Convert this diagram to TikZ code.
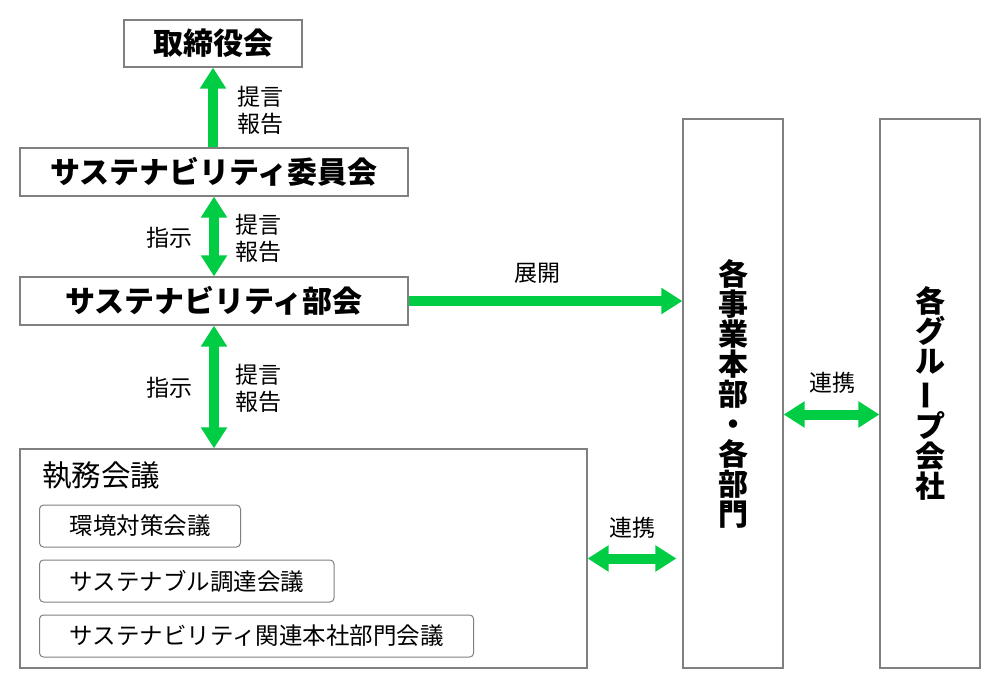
\documentclass[tikz,border=0pt]{standalone}
\usepackage{fontspec}
\usepackage{graphicx}
\setmainfont{Noto Sans CJK JP}
\usetikzlibrary{arrows.meta}
\definecolor{kgreen}{RGB}{0,204,68}
\definecolor{kgray}{RGB}{128,128,128}

\begin{document}
\begin{tikzpicture}[x=1pt,y=-1pt,
    box/.style={draw=kgray,line width=1.2pt,inner sep=0pt,font=\fontsize{30}{30}\selectfont\bfseries},
    subbox/.style={draw=kgray,line width=1pt,rounded corners=4pt,inner xsep=30pt,minimum height=42pt,anchor=west,font=\fontsize{23.5}{26}\selectfont},
    garrow/.style={kgreen,line width=10pt,-{Triangle[width=25pt,length=21pt]}},
    gboth/.style={kgreen,line width=10pt,{Triangle[width=25pt,length=21pt]}-{Triangle[width=25pt,length=21pt]}},
    lbl/.style={font=\fontsize{23}{27}\selectfont,align=left,inner sep=0pt}]
  \useasboundingbox (0,0) rectangle (1000,690);
  % left column
  \node[box,minimum width=178,minimum height=47] (torishimari) at (213,43.5) {取締役会};
  \node[box,minimum width=388,minimum height=48] (iinkai) at (214,172) {サステナビリティ委員会};
  \node[box,minimum width=388,minimum height=48] (bukai) at (214,301) {サステナビリティ部会};
  \node[draw=kgray,line width=1.2pt,minimum width=567,minimum height=219] (shitsumu) at (303.5,558.5) {};
  \node[anchor=west,inner sep=0pt,font=\fontsize{29.5}{30}\selectfont] (shitsumutitle) at (42,476) {執務会議};
  \node[subbox] (kankyo) at (39,526) {環境対策会議};
  \node[subbox] (chotatsu) at (39,581) {サステナブル調達会議};
  \node[subbox] (honsha) at (39,636) {サステナビリティ関連本社部門会議};
  % right columns
  \node[box,minimum width=100,minimum height=549,align=center] (jigyo) at (733,393.5)
    {各\\事\\業\\本\\部\\・\\各\\部\\門};
  \node[box,minimum width=100,minimum height=549,align=center] (group) at (930,393.5)
    {各\\グ\\ル\\\rotatebox[origin=c]{90}{ー}\\プ\\会\\社};
  % arrows
  \draw[garrow] (torishimari.south |- iinkai.north) -- (torishimari.south);
  \draw[gboth] (iinkai.south) -- (bukai.north);
  \draw[gboth] (bukai.south) -- (bukai.south |- shitsumu.north);
  \draw[garrow] (bukai.east) -- (bukai.east -| jigyo.west);
  \draw[gboth,shorten >=6pt] (shitsumu.east) -- (shitsumu.east -| jigyo.west);
  \coordinate (renkei) at ([yshift=-21pt]jigyo.east);
  \draw[gboth] (renkei) -- (renkei -| group.west);
  % labels
  \node[lbl,anchor=west] (hokoku1) at (237,110) {提言\\報告};
  \node[lbl,anchor=west] (hokoku2) at (235,238) {提言\\報告};
  \node[lbl,anchor=east] (shiji1) at (193,238) {指示};
  \node[lbl,anchor=west] (hokoku3) at (235,388) {提言\\報告};
  \node[lbl,anchor=east] (shiji2) at (193,388) {指示};
  \node[lbl] (tenkai) at (537,273) {展開};
  \node[lbl] (renkei1) at (632,528) {連携};
  \node[lbl] (renkei2) at (832,383) {連携};
\end{tikzpicture}
\end{document}
